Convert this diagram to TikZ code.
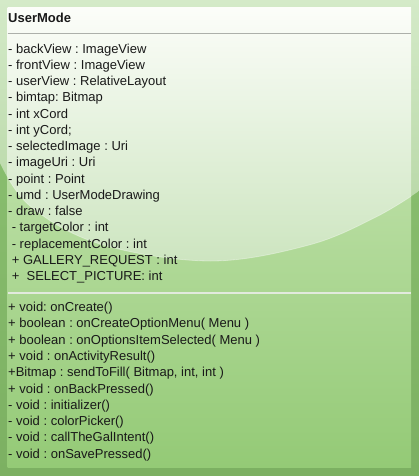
\documentclass[tikz,border=0pt]{standalone}
\usepackage{fontspec}
\setmainfont{Liberation Sans}
\definecolor{frameTop}{RGB}{142,196,116}
\definecolor{frameBot}{RGB}{124,176,98}
\definecolor{frameGlossTop}{RGB}{212,234,200}
\definecolor{frameGlossBot}{RGB}{178,212,160}
\definecolor{bodyTop}{RGB}{208,234,190}
\definecolor{bodyBot}{RGB}{148,202,118}
\definecolor{bodyGlossTop}{RGB}{253,254,251}
\definecolor{bodyGlossBot}{RGB}{205,229,192}
\definecolor{ruleGray}{RGB}{172,176,170}
\definecolor{ruleLight}{RGB}{226,234,222}
\begin{document}
\frenchspacing
\begin{tikzpicture}[x=1pt,y=-1pt,
  member/.style={anchor=base west,inner sep=0pt,text=black!90,
    font=\fontsize{13}{15.6}\selectfont\frenchspacing},
  title/.style={member,font=\fontsize{13}{15.6}\selectfont\bfseries},
  rule/.style={line width=1pt,draw=ruleGray},
  softrule/.style={line width=2pt,draw=ruleLight}]
\useasboundingbox (0,0) rectangle (419,476);
% glossy highlight region across the top
\def\glosspath{(0,0) -- (0,163) -- plot[smooth,tension=0.6] coordinates
  {(0,163) (30,206) (100,244) (210,261) (309,245) (376,217) (419,191)}
  -- (419,0) -- cycle}
% outer frame
\shade[top color=frameTop,bottom color=frameBot] (0,0) rectangle (419,476);
\shade[top color=frameGlossTop,bottom color=frameGlossBot] \glosspath;
% class box body
\coordinate (tl) at (7.5,7.5);
\coordinate (br) at (411,467.5);
\shade[top color=bodyTop,bottom color=bodyBot] (tl) rectangle (br);
\begin{scope}
  \clip (tl) rectangle (br);
  \shade[top color=bodyGlossTop,bottom color=bodyGlossBot] \glosspath;
  \draw[white,opacity=0.35,line width=0.8pt] plot[smooth,tension=0.6] coordinates
  {(0,163) (30,206) (100,244) (210,261) (309,245) (376,217) (419,191)};
\end{scope}
% compartment separators
\coordinate (s1a) at (7.5,33.5);  \coordinate (s1b) at (411,33.5);
\coordinate (s2a) at (7.5,292.7); \coordinate (s2b) at (411,292.7);
\draw[rule] (s1a) -- (s1b);
\draw[softrule] (s2a) -- (s2b);
% class name
\node[title] (name) at (8,22.7) {UserMode};
% attributes
\foreach \t [count=\i from 0] in {
  {- backView : ImageView},
  {- frontView : ImageView},
  {- userView : RelativeLayout},
  {- bimtap: Bitmap},
  {- int xCord},
  {- int yCord;},
  {- selectedImage : Uri},
  {- imageUri : Uri},
  {- point : Point},
  {- umd : UserModeDrawing},
  {- draw : false},
  {\ - targetColor : int},
  {\ - replacementColor : int},
  {\ + GALLERY\_REQUEST : int},
  {\ +\ \ SELECT\_PICTURE: int}}
  \node[member] (attr\i) at (8,53.2+16.25*\i) {\t};
% operations
\foreach \t [count=\i from 0] in {
  {+ void: onCreate()},
  {+ boolean : onCreateOptionMenu( Menu )},
  {+ boolean : onOptionsItemSelected( Menu )},
  {+ void : onActivityResult()},
  {+Bitmap : sendToFill( Bitmap, int, int )},
  {+ void : onBackPressed()},
  {- void : initializer()},
  {- void : colorPicker()},
  {- void : callTheGalIntent()},
  {- void : onSavePressed()}}
  \node[member] (op\i) at (8,311.7+16.26*\i) {\t};
\end{tikzpicture}
\end{document}
